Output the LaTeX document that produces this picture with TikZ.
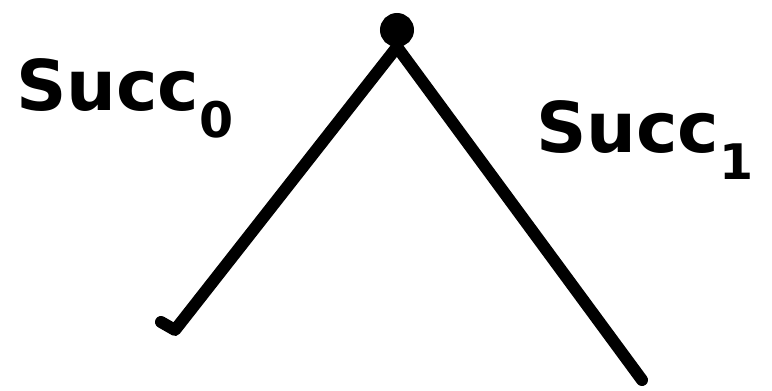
\documentclass[tikz,border=0pt]{standalone}
\usepackage{fontspec}
\setmainfont{DejaVu Sans}
\usetikzlibrary{positioning}

\begin{document}
\begin{tikzpicture}[x=1pt,y=-1pt,
  stroke/.style={line width=12pt,line cap=round,line join=round},
  lbl/.style={font=\fontsize{70}{72}\selectfont\bfseries,inner sep=0pt,anchor=base west}]
  \useasboundingbox (0,0) rectangle (772,391);
  % root and the two branch ends
  \node[circle,draw,fill,line width=6pt,minimum size=28pt,inner sep=0pt] (root) at (397,30) {};
  \coordinate (leaf0) at (175,330);
  \coordinate (leaf1) at (642,380);
  \draw[stroke] (root.south) -- (leaf0) -- ++(-14,-8);
  \draw[stroke] (root.south) -- (leaf1);
  % labels
  \node[lbl] (succ0) at (16,110) {Succ$_{\mathbf{0}}$};
  \node[lbl] (succ1) at (536,152) {Succ$_{\mathbf{1}}$};
\end{tikzpicture}
\end{document}
